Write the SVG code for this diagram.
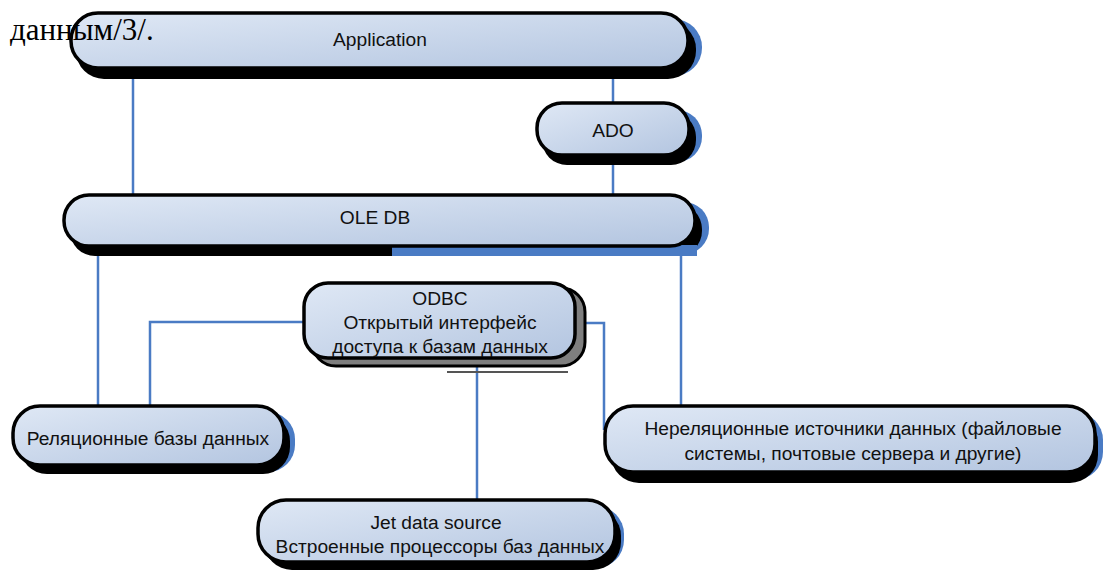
<svg xmlns="http://www.w3.org/2000/svg" width="1103" height="571" viewBox="0 0 1103 571">
<defs>
<linearGradient id="g" x1="0" y1="0" x2="1" y2="1">
<stop offset="0" stop-color="#dfe8f5"/>
<stop offset="1" stop-color="#b3c5e0"/>
</linearGradient>
<style>
.box{fill:url(#g);stroke:#000;stroke-width:3.5}
.shb{fill:#000}
.shl{fill:#4a7bc4}
.shg{fill:#7f7f7f;stroke:#000;stroke-width:3}
.t{font-family:"Liberation Sans",Arial,sans-serif;font-size:19.2px;fill:#111;text-anchor:middle}
.ln{fill:none;stroke:#4a7bc4;stroke-width:2.5}
</style>
</defs>
<rect width="1103" height="571" fill="#fff"/>

<g id="connectors">
<line class="ln" x1="133" y1="68" x2="133" y2="195"/>
<line class="ln" x1="613" y1="68" x2="613" y2="104"/>
<line class="ln" x1="613" y1="155" x2="613" y2="195"/>
<line class="ln" x1="98" y1="246" x2="98" y2="406"/>
<line class="ln" x1="681" y1="246" x2="681" y2="406"/>
<polyline class="ln" points="304,322 150,322 150,406"/>
<polyline class="ln" points="575,323 604,323 604,430"/>
<line class="ln" x1="477" y1="358" x2="477" y2="500"/>
</g>

<g id="application">
<rect class="shl" x="80" y="19" width="622" height="57" rx="28"/>
<rect class="shb" x="76" y="21" width="620" height="58" rx="28"/>
<rect class="box" x="71" y="13" width="617" height="55" rx="27"/>
<text class="t" x="380" y="46">Application</text>
</g>

<g id="ado">
<rect class="shl" x="547" y="110" width="155" height="52" rx="25"/>
<rect class="shb" x="542" y="112" width="154" height="53" rx="25"/>
<rect class="box" x="537" y="103" width="152" height="52" rx="25"/>
<text class="t" x="613" y="137">ADO</text>
</g>

<g id="oledb">
<rect class="shl" x="74" y="202" width="635" height="52" rx="25"/>
<rect class="shb" x="70" y="204" width="632" height="52" rx="25"/>
<rect class="shl" x="392" y="245" width="305" height="11"/>
<rect class="box" x="64" y="195" width="631" height="51" rx="25"/>
<text class="t" x="375" y="224">OLE DB</text>
</g>

<g id="odbc">
<line x1="447" y1="372" x2="568" y2="372" stroke="#555" stroke-width="2"/>
<rect class="shg" x="312" y="288" width="273" height="78" rx="24"/>
<rect class="box" x="304" y="283" width="271" height="75" rx="24"/>
<text class="t" x="440" y="305">ODBC</text>
<text class="t" x="440" y="329">Открытый интерфейс</text>
<text class="t" x="440" y="353">доступа к базам данных</text>
</g>

<g id="relational">
<rect class="shl" x="22" y="412" width="273" height="60" rx="27"/>
<rect class="shb" x="20" y="414" width="270" height="60" rx="27"/>
<rect class="box" x="13" y="406" width="271" height="59" rx="27"/>
<text class="t" x="148" y="445">Реляционные базы данных</text>
</g>

<g id="nonrelational">
<rect class="shl" x="614" y="412" width="489" height="68" rx="28"/>
<rect class="shb" x="611" y="414" width="487" height="69" rx="28"/>
<rect class="box" x="605" y="406" width="490" height="66" rx="28"/>
<text class="t" x="853" y="435">Нереляционные источники данных (файловые</text>
<text class="t" x="853" y="460">системы, почтовые сервера и другие)</text>
</g>

<g id="jet">
<rect class="shl" x="268" y="506" width="356" height="62" rx="28"/>
<rect class="shb" x="264" y="508" width="357" height="62" rx="28"/>
<rect class="box" x="258" y="500" width="357" height="62" rx="28"/>
<text class="t" x="436" y="529">Jet data source</text>
<text class="t" x="440" y="553">Встроенные процессоры баз данных</text>
</g>

<text x="10" y="40" font-family="Liberation Serif,serif" font-size="31" fill="#000">данным/3/.</text>
</svg>
